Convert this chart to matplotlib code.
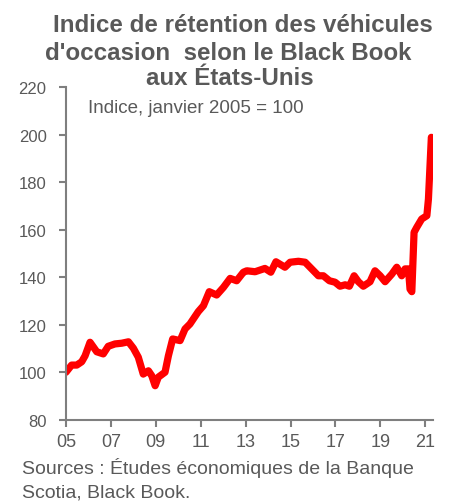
import matplotlib
matplotlib.use("Agg")
import matplotlib.pyplot as plt

plt.rcParams['font.family'] = ['Liberation Sans', 'DejaVu Sans']

years = [2005.00, 2005.25, 2005.48, 2005.70, 2005.85, 2006.07, 2006.37, 2006.66, 2006.88,
         2007.18, 2007.48, 2007.78, 2008.00, 2008.22, 2008.44, 2008.67, 2008.82, 2008.97,
         2009.11, 2009.41, 2009.56, 2009.75, 2010.08, 2010.30, 2010.52, 2010.89, 2011.12,
         2011.38, 2011.71, 2012.01, 2012.31, 2012.60, 2012.90, 2013.05, 2013.42, 2013.86,
         2014.12, 2014.35, 2014.75, 2014.98, 2015.35, 2015.65, 2015.94, 2016.24, 2016.46,
         2016.73, 2016.98, 2017.20, 2017.43, 2017.62, 2017.83, 2018.02, 2018.24, 2018.54,
         2018.76, 2018.99, 2019.21, 2019.51, 2019.73, 2019.95, 2020.10, 2020.25, 2020.32,
         2020.40, 2020.50, 2020.62, 2020.84, 2021.07, 2021.14, 2021.21, 2021.27]
index_values = [100.0, 103.0, 103.0, 104.4, 106.9, 112.6, 108.6, 107.7, 110.9,
                111.9, 112.2, 112.8, 110.1, 106.3, 99.2, 100.6, 98.5, 94.3,
                97.9, 100.0, 106.9, 114.0, 113.3, 118.2, 120.3, 125.5, 128.0,
                133.9, 132.5, 135.7, 139.5, 138.5, 142.1, 142.7, 142.3, 143.7,
                142.1, 146.5, 144.2, 146.3, 146.7, 146.3, 143.5, 140.6, 140.6,
                138.5, 137.9, 136.2, 136.8, 136.2, 140.6, 138.1, 136.2, 138.1,
                142.7, 140.6, 138.1, 141.3, 144.2, 140.6, 143.5, 143.5, 135.0,
                133.9, 158.9, 161.0, 164.5, 165.9, 172.9, 186.9, 198.9]

x_ticks = [2005, 2007, 2009, 2011, 2013, 2015, 2017, 2019, 2021]
x_tick_labels = ['05', '07', '09', '11', '13', '15', '17', '19', '21']
y_ticks = [80, 100, 120, 140, 160, 180, 200, 220]

title_lines = ["Indice de rétention des véhicules",
               "d'occasion  selon le Black Book",
               "aux États-Unis"]
subtitle = "Indice, janvier 2005 = 100"
source_lines = ["Sources : Études économiques de la Banque",
                "Scotia, Black Book."]

text_color = '#595959'
axis_color = '#7f7f7f'
W, H = 456, 502

fig = plt.figure(figsize=(4.56, 5.02), dpi=100)
ax = fig.add_axes([66/W, 1 - 420.7/H, (432.7 - 66)/W, (420.7 - 88.2)/H])

ax.plot(years, index_values, color='#ff0000', lw=5.2, solid_joinstyle='round', solid_capstyle='round')

ax.set_xlim(2005, 2021.33)
ax.set_ylim(80, 220)
ax.set_xticks(x_ticks)
ax.set_xticklabels(x_tick_labels)
ax.set_yticks(y_ticks)

for s in ['top', 'right']:
    ax.spines[s].set_visible(False)
for s in ['left', 'bottom']:
    ax.spines[s].set_color(axis_color)
    ax.spines[s].set_linewidth(1.5)
ax.tick_params(axis='both', colors=axis_color, labelcolor=text_color,
               width=1.5, length=5, direction='out')
ax.tick_params(axis='x', pad=4.5, labelsize=13)
ax.tick_params(axis='y', pad=9, labelsize=12)

title_centers = [242.5, 228.5, 230]
title_baselines = [32, 59.5, 85]
for line, cx, by in zip(title_lines, title_centers, title_baselines):
    fig.text(cx/W, 1 - by/H, line, ha='center', va='baseline', fontsize=17.4,
             fontweight='bold', color=text_color)

fig.text(88/W, 1 - 113/H, subtitle, ha='left', va='baseline', fontsize=13.5, color=text_color)
for line, by in zip(source_lines, [474.5, 497.5]):
    fig.text(22/W, 1 - by/H, line, ha='left', va='baseline', fontsize=14, color=text_color)

fig.savefig('out.png', dpi=100)
